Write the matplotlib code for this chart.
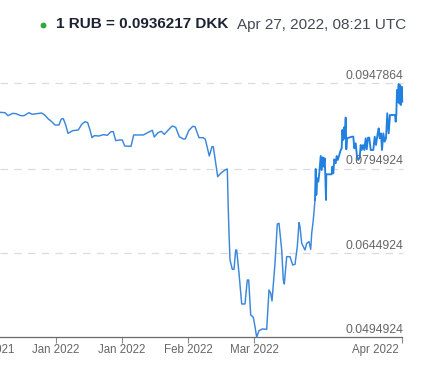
import matplotlib
matplotlib.use("Agg")
import matplotlib.pyplot as plt
from matplotlib.transforms import ScaledTranslation

plt.rcParams['font.family'] = ['Liberation Sans', 'DejaVu Sans']

session = [0,5,8,12.7,16,20.7,24,29,32,36.7,41.7,45,48.3,51.7,55,59,61.3,63.3,65.7,68,72.7,78.3,81.7,85,87.7,90,92,94.3,99,103.3,
           107.3,111,113.3,115.7,119.3,122.3,124.7,131,133.7,143.3,148.3,152.3,154.3,158,161.3,164.3,168.3,172.3,175.7,179.3,
           183.3,185.3,188.7,192.7,195,199,203.3,205.3,209.3,212,213.3,217.7,220.7,225,227.3,228.3,
           229,230,232.3,234,235.7,236.7,239.3,241.7,245,247.3,248.7,250.7,253.3,255,256.7,259,262.3,266.7,269,270.7,272,275,
           277.3,279,281.7,283.3,284.3,286.7,290,292.7,295,297.3,299,300,301.7,305,306.7,309,310.7,311.7,313.3,
           315,315.7,316.3,317.3,318.3,319.3,320.7,321.7,322.7,323.7,324.7,325.3,326,326.3,331.7,332.3,333.3,334.3,335.7,336.7,
           337.7,339.3,340.7,341.7,342.3,343.3,344,344.7,345.7,346.3,347,352,353.3,354.3,355.7,357,358.3,359.7,360.7,361.7,
           363,364.3,365.7,366.7,368,369.3,370.7,373.3,374.7,376,377.7,378.7,379.7,381,382,383.3,384.7,386,387.3,388.7,390,
           395,395.7,396.3,397,397.7,398.7,399.3,400,400.7,401.7,402.3]
rate = [.08957,.08951,.08898,.08939,.08933,.08898,.08898,.08951,.08922,.08933,.08945,.08904,.08839,.08791,.08732,.08732,.08839,.08845,.08732,.08583,
        .08631,.08643,.08744,.08791,.08773,.08643,.08506,.08542,.08536,.08560,.08548,.08613,.08613,.08453,.08465,.08465,.08358,.08352,.08554,.08554,
        .08601,.08637,.08518,.08595,.08619,.08566,.08643,.08714,.08690,.08524,.08483,.08483,.08631,.08708,.08702,.08506,.08506,.08477,.08180,.08346,
        .08346,.07812,.07872,.07931,.07949,.07219,
        .06804,.06329,.06163,.06163,.06507,.06507,.06032,.05546,.05546,.05973,.05973,.05350,.05309,.05143,.04953,.05071,.05101,.05095,.05795,.05736,
        .05599,.06270,.06970,.06982,.06507,.05973,.05902,.06388,.06388,.06240,.06252,.06566,.06994,.06922,.06626,.06507,.06626,.06655,.06519,.06804,.07041,
        .07397,.07949,.07486,.07783,.07723,.07872,.08180,.07931,.08157,.07990,.08139,.07842,.07397,.07854,.07854,.07990,.07872,.08121,.08050,.08180,
        .08109,.08198,.08287,.08317,.08643,.08465,.08690,.08495,.08863,.08299,.08495,.08524,.08524,.08317,.08406,.08168,.08109,.08157,.08376,.08287,
        .08376,.08287,.08495,.08299,.08506,.08506,.08287,.08287,.08524,.08376,.08583,.08673,.08495,.08583,.08287,.08583,.08435,.08495,.08940,.08583,.08910,
        .08910,.08791,.08910,.09355,.09147,.09462,.09118,.09444,.09088,.09414,.09147]
y_ticks = [0.0947864, 0.0794924, 0.0644924, 0.0494924]
y_labels = ['0.0947864', '0.0794924', '0.0644924', '0.0494924']
x_ticks = [-10, 56, 122, 188, 254, 402]
x_labels = ['Dec 2021', 'Jan 2022', 'Jan 2022', 'Feb 2022', 'Mar 2022', 'Apr 2022']
headline = '1 RUB = 0.0936217 DKK'
stamp = 'Apr 27, 2022, 08:21 UTC'

W, H = 446, 379
fig = plt.figure(figsize=(W/100, H/100), dpi=100, facecolor='white')
ax = fig.add_axes([-40/W, 0, (W+40)/W, 1])
ax.set_xlim(-40, W)
ax.set_ylim(0.042105, 0.109567)
ax.set_facecolor('white')

for s in ('top', 'left', 'right'):
    ax.spines[s].set_visible(False)
sp = ax.spines['bottom']
sp.set_position(('data', y_ticks[-1]))
sp.set_bounds(-40, 402)
sp.set_color('#6a6a6a')
sp.set_linewidth(0.9)

ax.hlines(y_ticks[:-1], 0, 403, colors='#dcdcdc', linewidth=0.9, linestyles=(0, (6, 5)), zorder=1)
split = session.index(315)
ax.plot(session[:split + 1], rate[:split + 1], color='#3a87dc', linewidth=1.05, solid_joinstyle='round', zorder=3)
ax.plot(session[split:], rate[split:], color='#2180e0', linewidth=1.35, solid_joinstyle='round', zorder=3)

ax.set_yticks([])
ax.set_xticks(x_ticks, x_labels)
ax.tick_params(axis='x', length=4.2, width=0.8, color='#8a8a8a', labelcolor='#666666', labelsize=8.3, pad=0.6)
lbls = ax.get_xticklabels()
lbls[-1].set_ha('right')
lbls[-1].set_transform(lbls[-1].get_transform() + ScaledTranslation(-3/100, 0, fig.dpi_scale_trans))

for v, t in zip(y_ticks, y_labels):
    ax.annotate(t, (403.5, v), xytext=(0, 5.4), textcoords='offset points', ha='right', va='center',
                fontsize=8.8, color='#666666', zorder=4)

ax.plot([43], [0.109567 - 25*0.000178], marker='o', markersize=4.2, color='#2ea836', markeredgewidth=0, clip_on=False)
fig.text(56/W, 1-24.5/H, headline, fontsize=11, fontweight='bold', color='#1b2333', va='center', ha='left')
fig.text(237/W, 1-24.5/H, stamp, fontsize=11, color='#444a55', va='center', ha='left')

fig.savefig('out.png', dpi=100)
